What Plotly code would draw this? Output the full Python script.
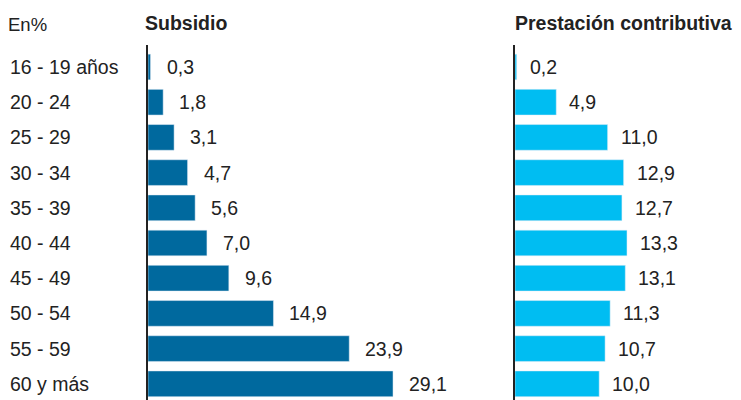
import plotly.graph_objects as go

categories = ["16 - 19 años", "20 - 24", "25 - 29", "30 - 34", "35 - 39",
              "40 - 44", "45 - 49", "50 - 54", "55 - 59", "60 y más"]
subsidio = [0.3, 1.8, 3.1, 4.7, 5.6, 7.0, 9.6, 14.9, 23.9, 29.1]
contributiva = [0.2, 4.9, 11.0, 12.9, 12.7, 13.3, 13.1, 11.3, 10.7, 10.0]
titles = ["Subsidio", "Prestación contributiva"]
unit_label = "En%"

DARK = "#00699E"
LIGHT = "#00BDF2"
TXT = "#222222"
FONT = "Liberation Sans"

OFF = 8                      # browser body margin
W, H = 741 - OFF, 400 - OFF  # figure size
def fx(px):                  # reference x pixel -> paper fraction
    return (px - OFF) / W
def fy(py):                  # reference y pixel -> paper fraction
    return 1 - (py - OFF) / H

x1_start, x1_end = 148, 480
x2_start, x2_end = 515, 741
pxu = 8.42  # pixels per percent
row = 35.2
top_px = 45
first_center = 67

fig = go.Figure()
fig.add_trace(go.Bar(y=categories, x=subsidio, orientation="h", marker_color=DARK,
                     width=0.73, xaxis="x", yaxis="y", hoverinfo="skip"))
fig.add_trace(go.Bar(y=categories, x=contributiva, orientation="h", marker_color=LIGHT,
                     width=0.73, xaxis="x2", yaxis="y2", hoverinfo="skip"))

def fmt(v):
    return f"{v:.1f}".replace(".", ",")

VSIZE = 19.5
CSIZE = 19.5
for c, v in zip(categories, subsidio):
    fig.add_annotation(x=v, y=c, xref="x", yref="y", text=fmt(v), showarrow=False,
                       xanchor="left", xshift=14, font=dict(size=VSIZE, color=TXT, family=FONT))
for c, v in zip(categories, contributiva):
    fig.add_annotation(x=v, y=c, xref="x2", yref="y2", text=fmt(v), showarrow=False,
                       xanchor="left", xshift=11, font=dict(size=VSIZE, color=TXT, family=FONT))
for c in categories:
    fig.add_annotation(x=fx(10), y=c, xref="paper", yref="y", text=c, showarrow=False,
                       xanchor="left", xshift=-2, font=dict(size=CSIZE, color=TXT, family=FONT))

# panel titles
fig.add_annotation(x=fx(145), y=fy(23), xref="paper", yref="paper", text=f"<b>{titles[0]}</b>",
                   showarrow=False, xanchor="left", yanchor="middle", xshift=-2,
                   font=dict(size=19.5, color=TXT, family=FONT))
fig.add_annotation(x=fx(515), y=fy(23), xref="paper", yref="paper", text=f"<b>{titles[1]}</b>",
                   showarrow=False, xanchor="left", yanchor="middle", xshift=-2,
                   font=dict(size=19.5, color=TXT, family=FONT))
fig.add_annotation(x=fx(8), y=fy(24), xref="paper", yref="paper", text=unit_label,
                   showarrow=False, xanchor="left", yanchor="middle", xshift=-2,
                   font=dict(size=18.5, color=TXT, family=FONT))

y_top = -0.5 - (first_center - row / 2 - top_px) / row
y_bot = y_top + (400 - top_px) / row
ydom = [0, fy(top_px)]

fig.update_layout(
    width=W, height=H, margin=dict(l=0, r=0, t=0, b=0, pad=0),
    paper_bgcolor="white", plot_bgcolor="white", showlegend=False,
    font=dict(family=FONT, color=TXT, size=17),
    xaxis=dict(domain=[fx(x1_start), fx(x1_end)], range=[0, (x1_end - x1_start) / pxu],
               visible=False, fixedrange=True),
    xaxis2=dict(domain=[fx(x2_start), 1], range=[0, (x2_end - x2_start) / pxu],
                visible=False, fixedrange=True),
    yaxis=dict(domain=ydom, anchor="x", range=[y_bot, y_top], showline=True, linecolor=TXT,
               linewidth=2, showticklabels=False, ticks="", showgrid=False, zeroline=False,
               categoryorder="array", categoryarray=categories, fixedrange=True),
    yaxis2=dict(domain=ydom, anchor="x2", range=[y_bot, y_top], showline=True, linecolor=TXT,
                linewidth=2, showticklabels=False, ticks="", showgrid=False, zeroline=False,
                categoryorder="array", categoryarray=categories, fixedrange=True),
)

fig.write_html("out.html")
